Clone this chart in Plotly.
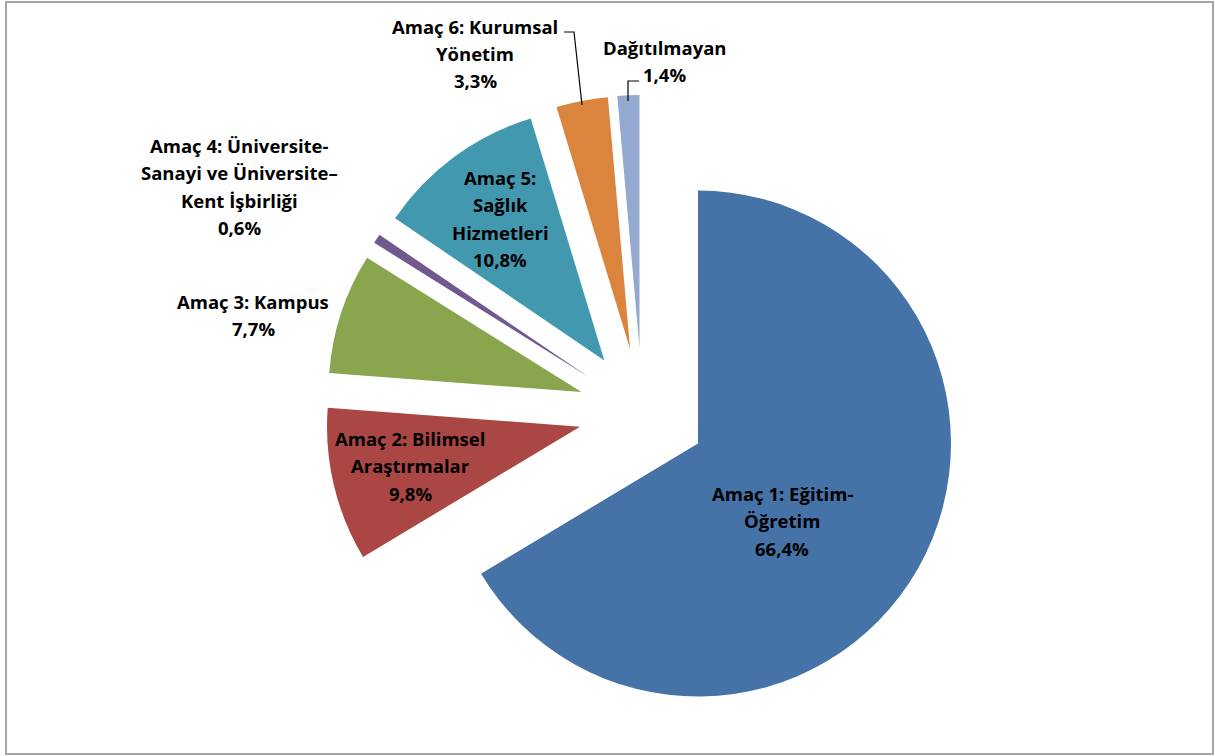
import plotly.graph_objects as go

# ---- data ----
labels = [
    "Amaç 1: Eğitim-<br>Öğretim",
    "Amaç 2: Bilimsel<br>Araştırmalar",
    "Amaç 3: Kampus",
    "Amaç 4: Üniversite-<br>Sanayi ve Üniversite–<br>Kent İşbirliği",
    "Amaç 5:<br>Sağlık<br>Hizmetleri",
    "Amaç 6: Kurumsal<br>Yönetim",
    "Dağıtılmayan",
]
values = [66.4, 9.8, 7.7, 0.6, 10.8, 3.3, 1.4]
colors = ["#4572A7", "#AA4643", "#89A54E", "#71588F", "#4198AF", "#DB843D", "#93A9CF"]

W, H = 1215, 756

def px(x):
    return x / W

def py(y):
    return 1 - y / H

# pie geometry (pixels)
cx, cy, r, pull = 642.3, 412.0, 253.0, 0.253
half = r * (1 + pull)

fig = go.Figure(go.Pie(
    labels=[l.replace("<br>", " ") for l in labels],
    values=values,
    sort=False,
    direction="clockwise",
    rotation=0,
    pull=[pull] * len(values),
    marker=dict(colors=colors, line=dict(width=0)),
    textinfo="none",
    hoverinfo="skip",
    domain=dict(x=[px(cx - half), px(cx + half)], y=[py(cy + half), py(cy - half)]),
    showlegend=False,
))

# label layout: (center x, first line center y) in pixels
label_pos = [(782, 493), (410, 438), (253, 301), (239, 145), (500, 177), (475, 26), (665, 47)]
line_gap = 27.5

annotations = []
for lab, val, (lx, ly) in zip(labels, values, label_pos):
    lines = lab.split("<br>") + [f"{val:.1f}".replace(".", ",") + "%"]
    for i, t in enumerate(lines):
        annotations.append(dict(
            x=px(lx), y=py(ly + i * line_gap), xref="paper", yref="paper",
            text=f"<b>{t}</b>", showarrow=False, xanchor="center", yanchor="middle",
            font=dict(family="'Open Sans', sans-serif", size=18.5, color="#000000"),
        ))

shapes = [
    # chart border
    dict(type="rect", xref="paper", yref="paper", x0=px(6), x1=px(1213), y0=py(754), y1=py(2),
         line=dict(color="#A6A6A6", width=2), fillcolor="rgba(0,0,0,0)"),
    # leader lines
    dict(type="path", xref="paper", yref="paper",
         path=f"M {px(564)},{py(32)} L {px(574)},{py(32)} L {px(582)},{py(105)}",
         line=dict(color="#000000", width=1.2)),
    dict(type="path", xref="paper", yref="paper",
         path=f"M {px(639)},{py(81)} L {px(628)},{py(81)} L {px(628)},{py(101)}",
         line=dict(color="#000000", width=1.2)),
]

fig.update_layout(
    width=W, height=H,
    margin=dict(l=0, r=0, t=0, b=0),
    paper_bgcolor="#FFFFFF",
    plot_bgcolor="#FFFFFF",
    annotations=annotations,
    shapes=shapes,
)

fig.write_html(
    "out.html",
    config={"displayModeBar": False},
    post_script="document.body.style.margin='0';document.body.style.overflow='hidden';",
)
